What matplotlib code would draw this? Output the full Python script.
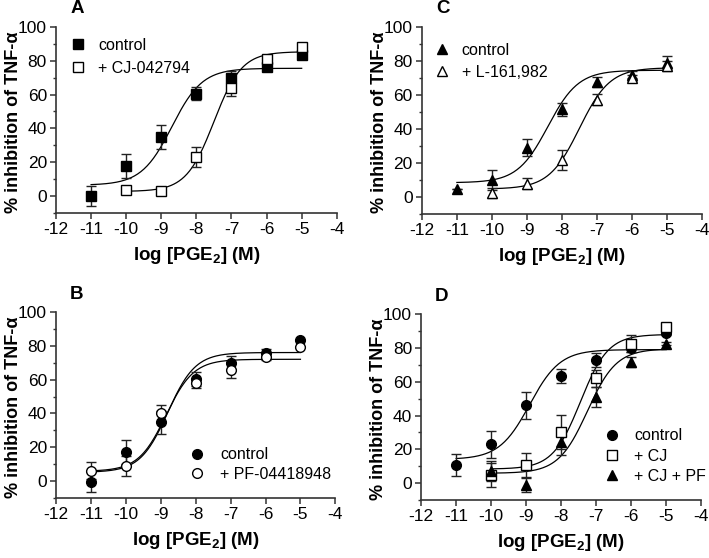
import numpy as np
import matplotlib
matplotlib.use('Agg')
import matplotlib.pyplot as plt
from matplotlib.ticker import MultipleLocator

plt.rcParams['font.family'] = ['Liberation Sans', 'DejaVu Sans']
plt.rcParams['mathtext.fontset'] = 'custom'
plt.rcParams['mathtext.rm'] = 'Liberation Sans:bold'
plt.rcParams['mathtext.bf'] = 'Liberation Sans:bold'

# log [PGE2] doses
dose = [-11, -10, -9, -8, -7, -6, -5]
dose_cj = [-10, -9, -8, -7, -6, -5]

# panel A
a_ctrl = [0, 17.8, 35, 60.6, 69.8, 76, 83.5]
a_ctrl_err = [6, 7, 7, 4, 4, 2, 2]
a_cj = [3.7, 3.1, 23, 64, 81, 87.8]
a_cj_err = [1, 1, 6, 5, 2, 2]

# panel C
c_ctrl = [5, 10, 29, 51.5, 67.6, 72, 79]
c_ctrl_err = [0, 6, 5, 4, 3, 2, 4]
c_l = [2.7, 8, 21.8, 57.3, 70, 76.8]
c_l_err = [3, 3, 6, 3, 2, 3]

# panel B
b_ctrl = [-0.4, 17.4, 34.7, 60.4, 70, 76, 83.4]
b_ctrl_err = [6, 7, 7, 4, 4, 2, 0]
b_pf = [6, 9, 40, 57.8, 65.7, 73.6, 79.5]
b_pf_err = [5, 6, 5, 3, 4.5, 2, 0]

# panel D
d_ctrl = [10.6, 23, 46, 63.3, 72.8, 79.7, 88.6]
d_ctrl_err = [6.5, 8, 8, 4.3, 4, 2, 1]
d_cj = [4.7, 10.6, 30.4, 62, 82.6, 92.5]
d_cj_err = [7, 7, 10, 5, 5, 1]
d_cjpf = [7.3, -1.2, 24.5, 51, 71.8, 82.6]
d_cjpf_err = [6, 4, 8, 6, 3, 1]

# fitted 4PL curves: bottom, top, logEC50, hill
fit_a_ctrl = [6.5, 75.5, -8.7, 1.0]
fit_a_cj = [2.8, 85.3, -7.5, 1.1]
fit_c_ctrl = [8.5, 74.5, -8.4, 1.0]
fit_c_l = [4.8, 76, -7.5, 1.0]
fit_b_ctrl = [5.2, 76, -8.8, 1.1]
fit_b_pf = [5.8, 72, -8.85, 1.1]
fit_d_ctrl = [14, 79, -8.9, 1.0]
fit_d_cj = [8.3, 88, -7.45, 1.1]
fit_d_cjpf = [5.8, 79.5, -7.25, 1.05]

SPINE = '#333333'


def curve(ax, p, x0):
    x = np.linspace(x0, -5, 200)
    y = p[0] + (p[1] - p[0]) / (1 + 10 ** ((p[2] - x) * p[3]))
    ax.plot(x, y, color='black', lw=0.9, zorder=2)


def points(ax, x, y, err, marker, filled, label):
    ax.errorbar(x, y, yerr=err, fmt='none', ecolor='#222222', elinewidth=1.0,
                capsize=3.4, capthick=1.0, zorder=3)
    ax.plot(x, y, linestyle='none', marker=marker, markersize=7,
            markerfacecolor='black' if filled else 'white',
            markeredgecolor='black', markeredgewidth=1.0, zorder=4, label=label)


def style(ax, letter):
    ax.set_xlim(-12, -4)
    ax.set_ylim(-10, 100)
    ax.set_xticks(range(-12, -3))
    ax.set_xticklabels([str(v) for v in range(-12, -3)])
    ax.set_yticks([0, 20, 40, 60, 80, 100])
    ax.yaxis.set_minor_locator(MultipleLocator(10))
    ax.spines['top'].set_visible(False)
    ax.spines['right'].set_visible(False)
    for s in ('left', 'bottom'):
        ax.spines[s].set_linewidth(1.2)
        ax.spines[s].set_color(SPINE)
    ax.tick_params(which='major', length=4.5, width=1.1, color=SPINE, pad=2)
    ax.tick_params(which='minor', length=2.5, width=1.0, color=SPINE)
    for lab in ax.get_xticklabels() + ax.get_yticklabels():
        lab.set_family(['Liberation Sans Narrow', 'Liberation Sans'])
        lab.set_fontsize(12.5)
    ax.set_xlabel(r'log [PGE$_2$] (M)', fontsize=13.5, fontweight='bold',
                  va='top')
    ax.xaxis.set_label_coords(0.5, -0.17)
    ax.set_ylabel('% inhibition of TNF-α', fontsize=13, fontweight='bold')
    ax.yaxis.set_label_coords(-0.122, 0.49)
    ax.text(0.05, 1.05, letter, transform=ax.transAxes, fontsize=13.5,
            fontweight='bold', va='bottom', ha='left')


def legend(ax, loc, anchor, pad, spacing):
    ax.legend(loc=loc, bbox_to_anchor=anchor, frameon=False, fontsize=11.5,
              handlelength=1.0, handletextpad=pad, borderpad=0,
              borderaxespad=0, labelspacing=spacing)


fig = plt.figure(figsize=(7.09, 5.58), dpi=100)
ax_a = fig.add_axes([0.079, 0.618, 0.396, 0.334])
ax_c = fig.add_axes([0.595, 0.616, 0.395, 0.336])
ax_b = fig.add_axes([0.079, 0.1075, 0.394, 0.3335])
ax_d = fig.add_axes([0.594, 0.104, 0.395, 0.333])

# A
curve(ax_a, fit_a_ctrl, -11)
curve(ax_a, fit_a_cj, -10)
points(ax_a, dose, a_ctrl, a_ctrl_err, 's', True, 'control')
points(ax_a, dose_cj, a_cj, a_cj_err, 's', False, '+ CJ-042794')
style(ax_a, 'A')
legend(ax_a, 'upper left', (0.05, 0.94), 0.75, 0.5)

# C
curve(ax_c, fit_c_ctrl, -11)
curve(ax_c, fit_c_l, -10)
points(ax_c, dose, c_ctrl, c_ctrl_err, '^', True, 'control')
points(ax_c, dose_cj, c_l, c_l_err, '^', False, '+ L-161,982')
style(ax_c, 'C')
legend(ax_c, 'upper left', (0.043, 0.915), 0.75, 0.45)

# B
curve(ax_b, fit_b_ctrl, -11)
curve(ax_b, fit_b_pf, -11)
points(ax_b, dose, b_ctrl, b_ctrl_err, 'o', True, 'control')
points(ax_b, dose, b_pf, b_pf_err, 'o', False, '+ PF-04418948')
style(ax_b, 'B')
legend(ax_b, 'lower left', (0.477, 0.086), 0.94, 0.3)

# D
curve(ax_d, fit_d_ctrl, -11)
curve(ax_d, fit_d_cj, -10)
curve(ax_d, fit_d_cjpf, -10)
points(ax_d, dose, d_ctrl, d_ctrl_err, 'o', True, 'control')
points(ax_d, dose_cj, d_cj, d_cj_err, 's', False, '+ CJ')
points(ax_d, dose_cj, d_cjpf, d_cjpf_err, '^', True, '+ CJ + PF')
style(ax_d, 'D')
legend(ax_d, 'lower left', (0.654, 0.086), 0.875, 0.33)

fig.savefig('out.png', dpi=100)
